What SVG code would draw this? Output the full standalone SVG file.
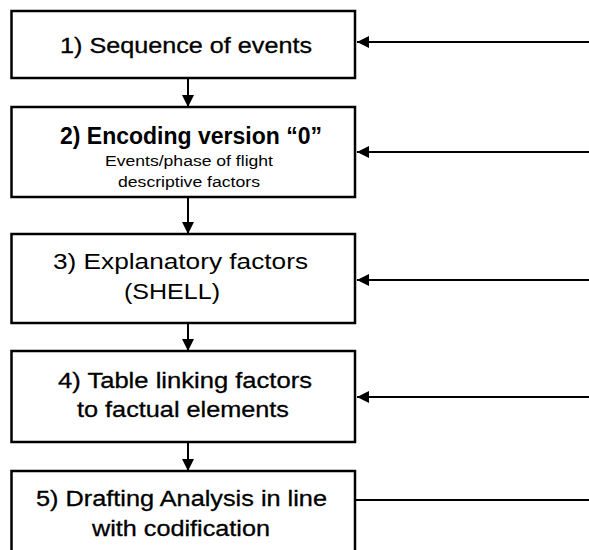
<svg xmlns="http://www.w3.org/2000/svg" width="589" height="550" viewBox="0 0 589 550">
<style>
.box{fill:#fff;stroke:#000;stroke-width:2.5}
.t{font-family:"Liberation Sans",Arial,sans-serif;fill:#000}
.big{font-size:21.5px;stroke:#000;stroke-width:0.3}
.lt{stroke-width:0}
.b2{font-size:23px;font-weight:bold}
.sm{font-size:15.5px}
.c{stroke:#000;stroke-width:2;fill:none}
</style>
<defs>
<marker id="ah" markerUnits="userSpaceOnUse" markerWidth="14" markerHeight="14" refX="12" refY="6" orient="auto">
<path d="M0,0 L12,6 L0,12 Z" fill="#000"/>
</marker>
</defs>
<rect width="589" height="550" fill="#fff"/>
<g id="connectors">
<line class="c" x1="188" y1="78" x2="188" y2="107" marker-end="url(#ah)"/>
<line class="c" x1="188" y1="197" x2="188" y2="234" marker-end="url(#ah)"/>
<line class="c" x1="188" y1="323" x2="188" y2="351" marker-end="url(#ah)"/>
<line class="c" x1="188" y1="442" x2="188" y2="471" marker-end="url(#ah)"/>
<line class="c" x1="589" y1="42" x2="357" y2="42" marker-end="url(#ah)"/>
<line class="c" x1="589" y1="152" x2="357" y2="152" marker-end="url(#ah)"/>
<line class="c" x1="589" y1="280" x2="357" y2="280" marker-end="url(#ah)"/>
<line class="c" x1="589" y1="397" x2="357" y2="397" marker-end="url(#ah)"/>
<line class="c" x1="589" y1="500" x2="356" y2="500"/>
</g>
<g id="node1">
<rect class="box" x="11.5" y="11" width="343.5" height="67"/>
<text class="t big" x="60" y="53" textLength="252" lengthAdjust="spacingAndGlyphs">1) Sequence of events</text>
</g>
<g id="node2">
<rect class="box" x="11.5" y="107" width="343.5" height="90"/>
<text class="t b2" x="60" y="144" textLength="262" lengthAdjust="spacingAndGlyphs">2) Encoding version “0”</text>
<text class="t sm" x="105" y="166" textLength="168" lengthAdjust="spacingAndGlyphs">Events/phase of flight</text>
<text class="t sm" x="118" y="187" textLength="142" lengthAdjust="spacingAndGlyphs">descriptive factors</text>
</g>
<g id="node3">
<rect class="box" x="11.5" y="234" width="343.5" height="89"/>
<text class="t big lt" x="53" y="269" textLength="255" lengthAdjust="spacingAndGlyphs">3) Explanatory factors</text>
<text class="t big lt" x="124" y="299" textLength="96" lengthAdjust="spacingAndGlyphs">(SHELL)</text>
</g>
<g id="node4">
<rect class="box" x="11.5" y="351" width="343.5" height="91"/>
<text class="t big" x="58" y="388" textLength="254" lengthAdjust="spacingAndGlyphs">4) Table linking factors</text>
<text class="t big" x="77" y="417" textLength="212" lengthAdjust="spacingAndGlyphs">to factual elements</text>
</g>
<g id="node5">
<rect class="box" x="11.5" y="471" width="343.5" height="90"/>
<text class="t big" x="36" y="506" textLength="291" lengthAdjust="spacingAndGlyphs">5) Drafting Analysis in line</text>
<text class="t big" x="92" y="536" textLength="178" lengthAdjust="spacingAndGlyphs">with codification</text>
</g>
</svg>
